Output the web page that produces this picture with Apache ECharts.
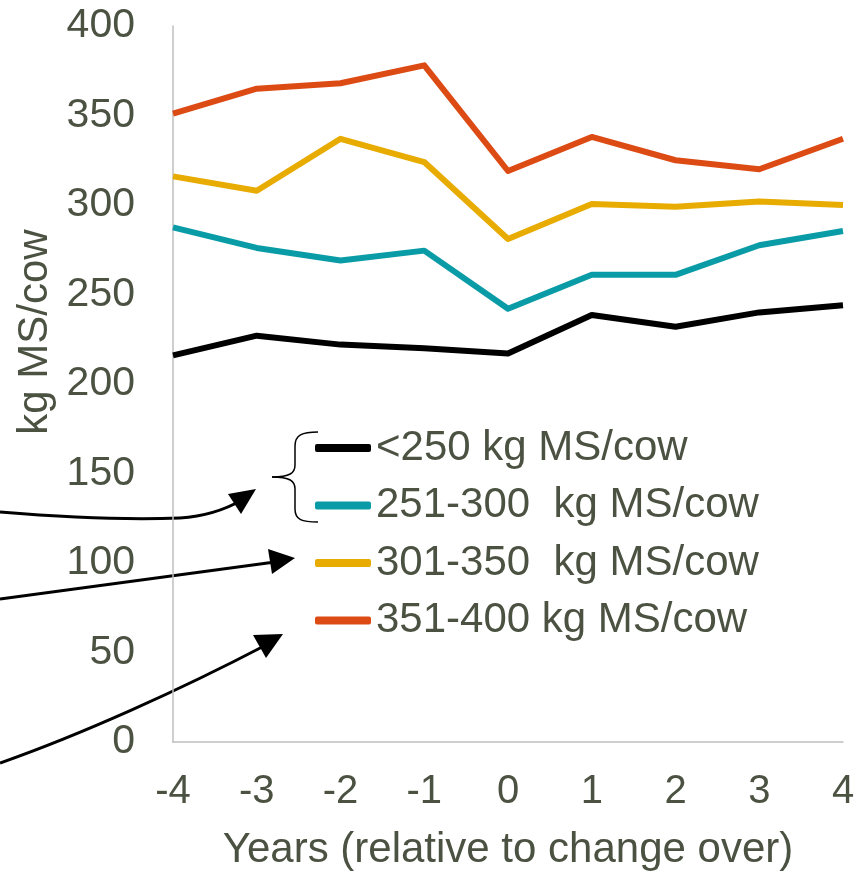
<!DOCTYPE html>
<html>
<head>
<meta charset="utf-8">
<script src="https://cdn.jsdelivr.net/npm/echarts@6/dist/echarts.min.js"></script>
<style>html,body{margin:0;padding:0;background:#fff}#c{width:865px;height:872px}</style>
</head>
<body>
<div id="c"></div>
<script>
var years = ['-4', '-3', '-2', '-1', '0', '1', '2', '3', '4'];
var seriesNames = ['<250 kg MS/cow', '251-300  kg MS/cow', '301-350  kg MS/cow', '351-400 kg MS/cow'];
var lt250 = [216, 227, 222, 220, 217, 238.5, 232, 240, 244];
var r251to300 = [287.5, 276, 269, 274.5, 242, 261, 261, 277.5, 285.5];
var r301to350 = [316, 308, 337, 324, 281, 300.5, 299, 302, 300];
var r351to400 = [351, 365, 368, 378, 319, 338, 325, 320, 337];
var yMin = 0, yMax = 400, yStep = 50;

var colors = ['#000000', '#0A9CA6', '#E8AB00', '#DD4B15'];
var textColor = '#4B5242';
var font = "'Liberation Sans', Arial, sans-serif";
var dataSets = [lt250, r251to300, r301to350, r351to400];

function bez(x1, y1, cpx1, cpy1, cpx2, cpy2, x2, y2, w) {
  return { type: 'bezierCurve', shape: { x1: x1, y1: y1, cpx1: cpx1, cpy1: cpy1, cpx2: cpx2, cpy2: cpy2, x2: x2, y2: y2 },
    style: { fill: null, stroke: '#000', lineWidth: w } };
}
function seg(x1, y1, x2, y2, w) {
  return { type: 'line', shape: { x1: x1, y1: y1, x2: x2, y2: y2 }, style: { stroke: '#000', lineWidth: w } };
}

var chart = echarts.init(document.getElementById('c'));
chart.setOption({
  animation: false,
  backgroundColor: '#ffffff',
  grid: { left: 173, right: 22, top: 26, bottom: 130, containLabel: false, outerBoundsMode: 'none' },
  xAxis: {
    type: 'category',
    data: years,
    boundaryGap: false,
    axisLine: { lineStyle: { color: '#BFBFBF', width: 1.5 } },
    axisTick: { show: false },
    axisLabel: { color: textColor, fontSize: 40, fontFamily: font, margin: 30 },
    name: 'Years (relative to change over)',
    nameLocation: 'middle',
    nameGap: 87,
    nameTextStyle: { color: textColor, fontSize: 42, fontFamily: font }
  },
  yAxis: {
    type: 'value',
    min: yMin, max: yMax, interval: yStep,
    axisLine: { show: true, lineStyle: { color: '#BFBFBF', width: 1.5 } },
    axisTick: { show: false },
    splitLine: { show: false },
    axisLabel: { color: textColor, fontSize: 41, fontFamily: font, margin: 38 }
  },
  legend: {
    orient: 'vertical',
    left: 310,
    top: 418,
    itemWidth: 56,
    itemHeight: 8,
    itemGap: 7.5,
    icon: 'roundRect',
    textStyle: { color: textColor, fontSize: 42, fontFamily: font, lineHeight: 50 },
    data: seriesNames
  },
  series: dataSets.map(function (d, i) {
    return {
      name: seriesNames[i],
      type: 'line',
      data: d,
      symbol: 'none',
      color: colors[i],
      lineStyle: { color: colors[i], width: 6, join: 'round' }
    };
  }),
  graphic: [
    {
      type: 'text', x: 35, y: 332, rotation: Math.PI / 2,
      style: { text: 'kg MS/cow', fill: textColor, fontSize: 42, fontFamily: font, align: 'center', verticalAlign: 'middle' }
    },
    bez(318, 432, 302, 432, 295, 435, 295, 446, 1.5),
    seg(295, 446, 295, 465, 1.5),
    bez(295, 465, 295, 473, 290, 477, 272, 477, 1.5),
    bez(272, 477, 290, 477, 295, 481, 295, 489, 1.5),
    seg(295, 489, 295, 509, 1.5),
    bez(295, 509, 295, 520, 302, 522, 318, 522, 1.5),
    bez(0, 512, 60, 517, 130, 520, 180, 518, 3),
    bez(180, 518, 210, 516, 228, 508, 242, 500, 3),
    { type: 'polygon', shape: { points: [[256, 489], [228, 494], [241, 514]] }, style: { fill: '#000' } },
    seg(0, 599, 275, 562, 3),
    { type: 'polygon', shape: { points: [[295, 558], [268, 549], [272, 574]] }, style: { fill: '#000' } },
    bez(0, 763, 80, 735, 180, 690, 266, 645, 3),
    { type: 'polygon', shape: { points: [[283, 634], [253, 635], [266, 658]] }, style: { fill: '#000' } }
  ]
});
</script>
</body>
</html>
